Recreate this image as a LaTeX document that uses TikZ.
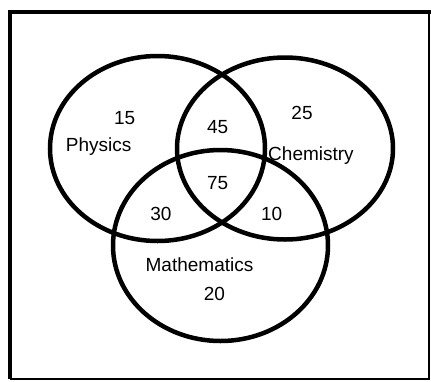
\documentclass[tikz,border=0pt]{standalone}
\usepackage{fontspec}
\setmainfont{Liberation Sans}
\begin{document}
\begin{tikzpicture}[x=1pt,y=-1pt,
  lbl/.style={anchor=base,inner sep=0pt,font=\fontsize{19}{21}\selectfont},
  ring/.style={line width=4.5pt}]
\useasboundingbox (0,0) rectangle (431,381);
% frame
\draw[line width=4.5pt] (10,379) -- (10,12) -- (431,12);
\draw[line width=1.8pt] (429,12) -- (429,379) -- (10,379);
% ellipses
\coordinate (P) at (157.5,148.5);
\coordinate (C) at (285,148.5);
\coordinate (M) at (220.5,245.5);
\draw[ring] (P) ellipse [x radius=107.5, y radius=92.5];
\draw[ring] (C) ellipse [x radius=108, y radius=91];
\draw[ring] (M) ellipse [x radius=107.5, y radius=95.5];
% labels
\node[lbl] (n15) at (124.7,124) {15};
\node[lbl] (phy) at (98.7,151.7) {Physics};
\node[lbl] (n45) at (217.7,133.3) {45};
\node[lbl] (n25) at (302,119) {25};
\node[lbl] (che) at (311,160.7) {Chemistry};
\node[lbl] (n75) at (217.7,189.3) {75};
\node[lbl] (n30) at (161,220) {30};
\node[lbl] (n10) at (271.7,220) {10};
\node[lbl] (mat) at (199.5,271.7) {Mathematics};
\node[lbl] (n20) at (214.5,300) {20};
\end{tikzpicture}
\end{document}
